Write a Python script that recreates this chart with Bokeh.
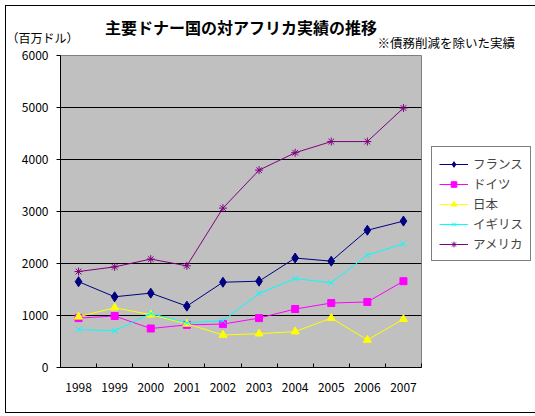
from bokeh.plotting import figure
from bokeh.models import Legend, LegendItem, FixedTicker, Range1d, Title
from bokeh.embed import file_html
from bokeh.resources import INLINE

years = [1998, 1999, 2000, 2001, 2002, 2003, 2004, 2005, 2006, 2007]
france = [1650, 1360, 1430, 1180, 1640, 1660, 2105, 2045, 2640, 2815]
germany = [950, 990, 750, 820, 835, 950, 1125, 1240, 1260, 1660]
japan = [975, 1150, 1015, 840, 625, 650, 690, 950, 530, 930]
uk = [730, 705, 1040, 860, 900, 1425, 1710, 1630, 2160, 2380]
usa = [1845, 1935, 2085, 1955, 3065, 3795, 4130, 4345, 4345, 4990]
y_ticks = [0, 1000, 2000, 3000, 4000, 5000, 6000]

title_text = "主要ドナー国の対アフリカ実績の推移"
unit_text = "（百万ドル）"
note_text = "※債務削減を除いた実績"

FONT = "Noto Sans CJK JP"

p = figure(output_backend="svg", toolbar_location=None,
           frame_width=361, frame_height=312,
           min_border_left=54, min_border_top=49, min_border_right=109, min_border_bottom=45,
           x_range=Range1d(1997.5, 2007.5), y_range=Range1d(0, 6000))
p.styles = {"margin-left": "5px", "margin-top": "5px", "border": "1px solid black"}
p.background_fill_color = "#C0C0C0"
p.border_fill_color = "white"
p.outline_line_color = "#808080"

# header texts: note nearest the frame, then title, then unit (outermost)
note = Title(text=note_text, align="left", offset=317, vertical_align="bottom",
             standoff=8, text_font=FONT, text_font_size="12.5px",
             text_font_style="normal", text_color="black")
main_title = Title(text=title_text, align="center", vertical_align="bottom",
                   standoff=-24.6, text_font=FONT, text_font_size="16px",
                   text_font_style="bold", text_color="black")
unit = Title(text=unit_text, align="left", offset=-54, vertical_align="bottom",
             standoff=-41, text_font=FONT, text_font_size="12px",
             text_font_style="normal", text_color="black")
p.add_layout(note, "above")
p.add_layout(main_title, "above")
p.add_layout(unit, "above")

p.xgrid.visible = False
p.ygrid.grid_line_color = "black"
p.ygrid.grid_line_width = 1
p.ygrid.bounds = (1000, 5000)

p.yaxis.ticker = FixedTicker(ticks=y_ticks)
p.yaxis.minor_tick_line_color = None
p.yaxis.major_tick_out = 4
p.yaxis.major_tick_in = 0
p.yaxis.major_label_standoff = 8
p.yaxis.axis_line_color = "black"

p.xaxis.ticker = FixedTicker(ticks=years, minor_ticks=[y + 0.5 for y in [years[0] - 1] + years])
p.xaxis.major_tick_in = 0
p.xaxis.major_tick_out = 0
p.xaxis.minor_tick_in = 4
p.xaxis.minor_tick_out = 0
p.xaxis.major_label_standoff = 15
p.xaxis.axis_line_color = "black"

for ax in (p.xaxis, p.yaxis):
    ax.major_label_text_font = FONT
    ax.major_label_text_font_size = "12px"
    ax.major_label_text_color = "black"

series = [
    ("フランス", france, "#000080", "diamond", 10),
    ("ドイツ", germany, "#FF00FF", "square", 7),
    ("日本", japan, "#FFFF00", "triangle", 8),
    ("イギリス", uk, "#00FFFF", "x", 8),
    ("アメリカ", usa, "#800080", "asterisk", 8),
]
items = []
for name, vals, col, mk, sz in series:
    ln = p.line(years, vals, line_color=col, line_width=1)
    sc = p.scatter(years, vals, marker=mk, size=sz, line_color=col, fill_color=col, line_width=1)
    items.append(LegendItem(label=name, renderers=[ln, sc]))

legend = Legend(items=items, location=(10, 106))
legend.label_text_font = FONT
legend.label_text_font_size = "12.5px"
legend.glyph_width = 29
legend.glyph_height = 14
legend.spacing = 1
legend.padding = 7
legend.margin = 0
legend.label_standoff = 5
legend.border_line_color = "black"
legend.border_line_width = 1
legend.background_fill_color = "white"
legend.background_fill_alpha = 1
p.add_layout(legend, "right")

open("out.html", "w").write(file_html(p, INLINE))
